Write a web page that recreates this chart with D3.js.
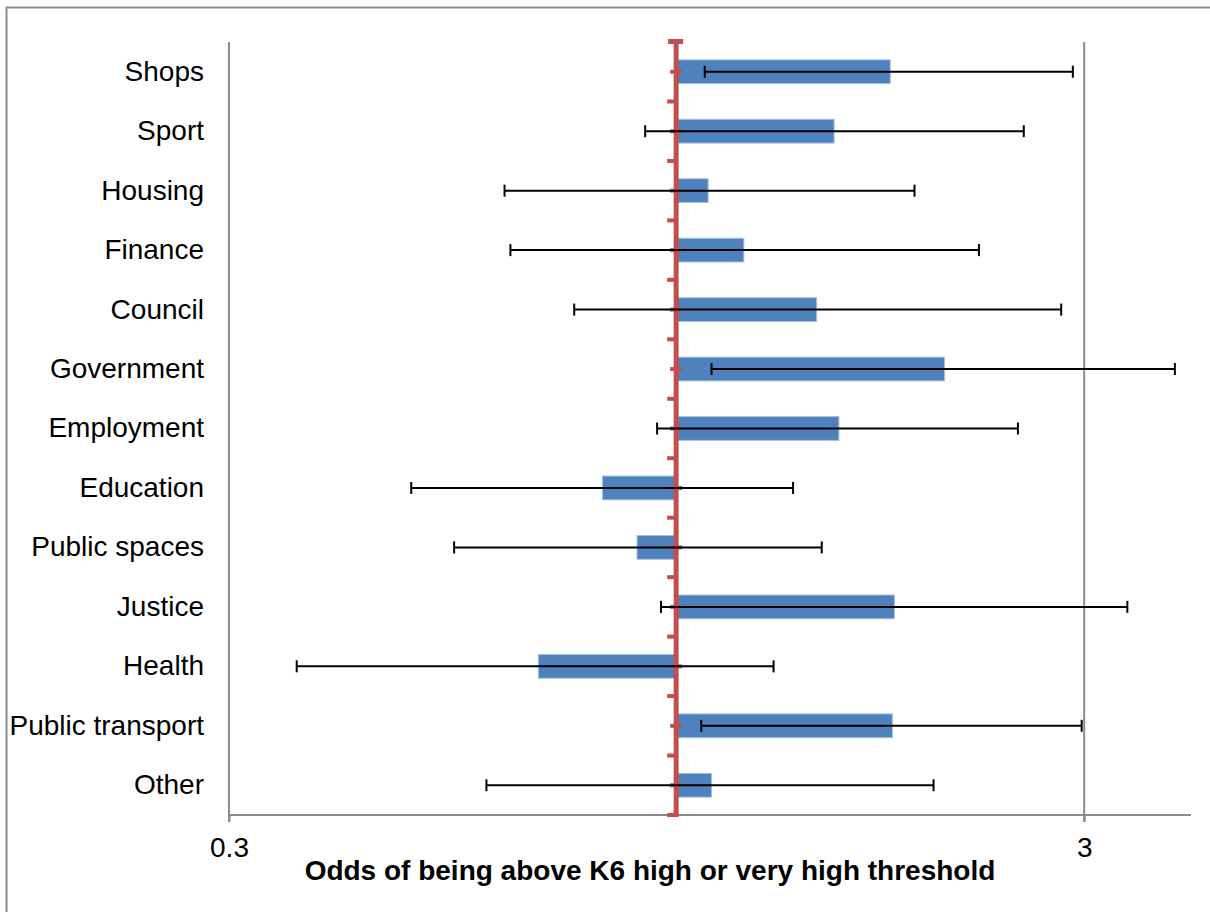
<!DOCTYPE html>
<html>
<head>
<meta charset="utf-8">
<script src="https://cdn.jsdelivr.net/npm/d3@7"></script>
<style>
  html, body { margin: 0; padding: 0; background: #fff; }
  svg { display: block; font-family: "Liberation Sans", Arial, sans-serif; }
</style>
</head>
<body>
<svg id="chart" width="1210" height="912"></svg>
<script>
// Odds ratios (with 95% confidence limits) by setting
const categories = ["Shops", "Sport", "Housing", "Finance", "Council", "Government",
  "Employment", "Education", "Public spaces", "Justice", "Health", "Public transport", "Other"];
const oddsRatio = [1.78, 1.53, 1.09, 1.20, 1.46, 2.06, 1.55, 0.82, 0.90, 1.80, 0.69, 1.79, 1.10];
const lowerCI   = [1.08, 0.92, 0.63, 0.64, 0.76, 1.10, 0.95, 0.49, 0.55, 0.96, 0.36, 1.07, 0.60];
const upperCI   = [2.91, 2.55, 1.90, 2.26, 2.82, 3.83, 2.51, 1.37, 1.48, 3.37, 1.30, 2.98, 2.00];
const xTicks = [0.3, 3];
const reference = 1;
const axisTitle = "Odds of being above K6 high or very high threshold";

const svg = d3.select("#chart");
const plot = { left: 229, right: 1191, top: 42, bottom: 815 };
const fontSize = 28;

const x = d3.scaleLog().domain([0.3, 4]).range([plot.left, plot.right]);
const y = d3.scaleBand().domain(categories).range([plot.top, plot.bottom]).paddingInner(0).paddingOuter(0);
const barH = y.bandwidth() * 0.4;
const gray = "#8c8c8c";

// outer frame
svg.append("rect").attr("x", 6.5).attr("y", 7.5).attr("width", 1220).attr("height", 920)
  .attr("fill", "none").attr("stroke", "#8c8c8c").attr("stroke-width", 2);

// vertical grid line at 3 and left axis line
svg.append("line").attr("x1", x(3)).attr("x2", x(3)).attr("y1", plot.top).attr("y2", plot.bottom + 7)
  .attr("stroke", gray).attr("stroke-width", 2);
svg.append("line").attr("x1", plot.left).attr("x2", plot.left).attr("y1", plot.top).attr("y2", plot.bottom + 7)
  .attr("stroke", gray).attr("stroke-width", 2);

// bottom axis
const xAxis = d3.axisBottom(x).tickValues(xTicks).tickFormat(d3.format("")).tickSize(7).tickPadding(15);
const gx = svg.append("g").attr("transform", `translate(0,${plot.bottom})`).call(xAxis);
gx.select(".domain").attr("stroke", gray).attr("stroke-width", 2)
  .attr("d", `M${plot.left},0H${plot.right}`);
gx.selectAll(".tick line").attr("stroke", gray).attr("stroke-width", 2);
gx.selectAll(".tick text").attr("font-size", fontSize).attr("fill", "#000")
  .attr("font-family", "'Liberation Sans', Arial, sans-serif");

// category labels
const yAxis = d3.axisLeft(y).tickSize(0).tickPadding(25);
const gy = svg.append("g").attr("transform", `translate(${plot.left},0)`).call(yAxis);
gy.select(".domain").remove();
gy.selectAll(".tick text").attr("font-size", fontSize).attr("fill", "#000")
  .attr("font-family", "'Liberation Sans', Arial, sans-serif");

// bars drawn from 1
svg.append("g").selectAll("rect").data(categories).join("rect")
  .attr("x", (d, i) => Math.min(x(oddsRatio[i]), x(reference)))
  .attr("width", (d, i) => Math.abs(x(oddsRatio[i]) - x(reference)))
  .attr("y", d => y(d) + (y.bandwidth() - barH) / 2)
  .attr("height", barH)
  .attr("fill", "#4f81bd")
  .attr("stroke", "#a9c1e0").attr("stroke-width", 1);

// reference line at 1 with its ticks
const rx = x(reference);
const red = "#c0504d";
const ref = svg.append("g");
ref.append("line").attr("x1", rx).attr("x2", rx).attr("y1", plot.top - 2).attr("y2", plot.bottom + 2)
  .attr("stroke", red).attr("stroke-width", 5);
ref.append("rect").attr("x", rx - 8).attr("y", plot.top - 3).attr("width", 15).attr("height", 5).attr("fill", red);
const bounds = categories.map(d => y(d) + y.bandwidth());
ref.selectAll(".bt").data(bounds).join("rect").attr("class", "bt")
  .attr("x", rx - 9).attr("y", d => d - 2).attr("width", 9).attr("height", 4).attr("fill", red);
ref.selectAll(".ct").data(categories).join("rect").attr("class", "ct")
  .attr("x", rx - 6).attr("y", d => y(d) + y.bandwidth() / 2 - 2).attr("width", 12).attr("height", 4).attr("fill", red);

// confidence intervals
const eb = svg.append("g").attr("stroke", "#000").attr("stroke-width", 2);
categories.forEach((c, i) => {
  const cy = y(c) + y.bandwidth() / 2;
  eb.append("line").attr("x1", x(lowerCI[i])).attr("x2", x(upperCI[i])).attr("y1", cy).attr("y2", cy);
  [lowerCI[i], upperCI[i]].forEach(v => {
    eb.append("line").attr("x1", x(v)).attr("x2", x(v)).attr("y1", cy - 6).attr("y2", cy + 6);
  });
});

// axis title
svg.append("text").attr("x", 650).attr("y", 880).attr("text-anchor", "middle")
  .attr("font-size", fontSize).attr("font-weight", "bold").text(axisTitle);
</script>
</body>
</html>
